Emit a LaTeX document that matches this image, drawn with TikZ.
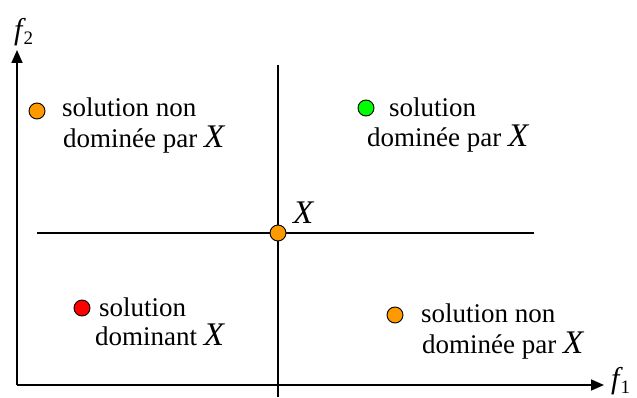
\documentclass[tikz,border=0pt]{standalone}
\usepackage{fontspec}
\setmainfont{Liberation Serif}
\usetikzlibrary{arrows.meta, positioning}
\definecolor{solOrange}{HTML}{FF9900}
\definecolor{solGreen}{HTML}{00FF00}
\definecolor{solRed}{HTML}{FF0000}

\newcommand{\bigX}{{\fontsize{33}{33}\selectfont\itshape X}}
\newcommand{\fvar}[1]{{\fontsize{30}{30}\selectfont\itshape f}\kern1pt{\fontsize{19}{19}\selectfont\raisebox{-5pt}{#1}}}

\begin{document}
\begin{tikzpicture}[x=1pt, y=-1pt,
    axis/.style={line width=1.6pt, -{Triangle[length=13pt, width=11pt]}},
    cross/.style={line width=1.2pt},
    pt/.style={circle, draw, line width=0.9pt, minimum size=16pt, inner sep=0pt},
    lbl/.style={anchor=base west, inner sep=0pt, font=\fontsize{27}{27}\selectfont}]
  \useasboundingbox (0,0) rectangle (637,398);

  % axes
  \coordinate (origin) at (17,385);
  \coordinate (ytip) at (17,50);
  \coordinate (xtip) at (604,385);
  \draw[axis] (origin) -- (ytip);
  \draw[axis] (origin) -- (xtip);
  \node[anchor=base west, inner sep=0pt] (f2) at (14,40) {\fvar{2}};
  \node[anchor=base west, inner sep=0pt] (f1) at (611,388) {\fvar{1}};

  % lines through X
  \coordinate (vtop) at (278,65);
  \coordinate (vbot) at (278,397);
  \coordinate (hleft) at (37,233);
  \coordinate (hright) at (534,233);
  \draw[cross] (vtop) -- (vbot);
  \draw[cross] (hleft) -- (hright);
  \node[pt, fill=solOrange] (xpt) at (278,233) {};
  \node[anchor=base west, inner sep=0pt] (xlbl) at (293,223) {\bigX};

  % top left
  \node[pt, fill=solOrange] (tl) at (37,111) {};
  \node[lbl] (tla) at (62,117) {solution non};
  \node[lbl] (tlb) at (63,148) {dominée par \bigX};

  % top right
  \node[pt, fill=solGreen] (tr) at (366,108) {};
  \node[lbl] (tra) at (389,117) {solution};
  \node[lbl] (trb) at (367,147) {dominée par \bigX};

  % bottom left
  \node[pt, fill=solRed] (bl) at (82,308) {};
  \node[lbl] (bla) at (99,316) {solution};
  \node[lbl] (blb) at (95,345) {dominant \bigX};

  % bottom right
  \node[pt, fill=solOrange] (br) at (395,315) {};
  \node[lbl] (bra) at (421,322) {solution non};
  \node[lbl] (brb) at (422,353) {dominée par \bigX};
\end{tikzpicture}
\end{document}
